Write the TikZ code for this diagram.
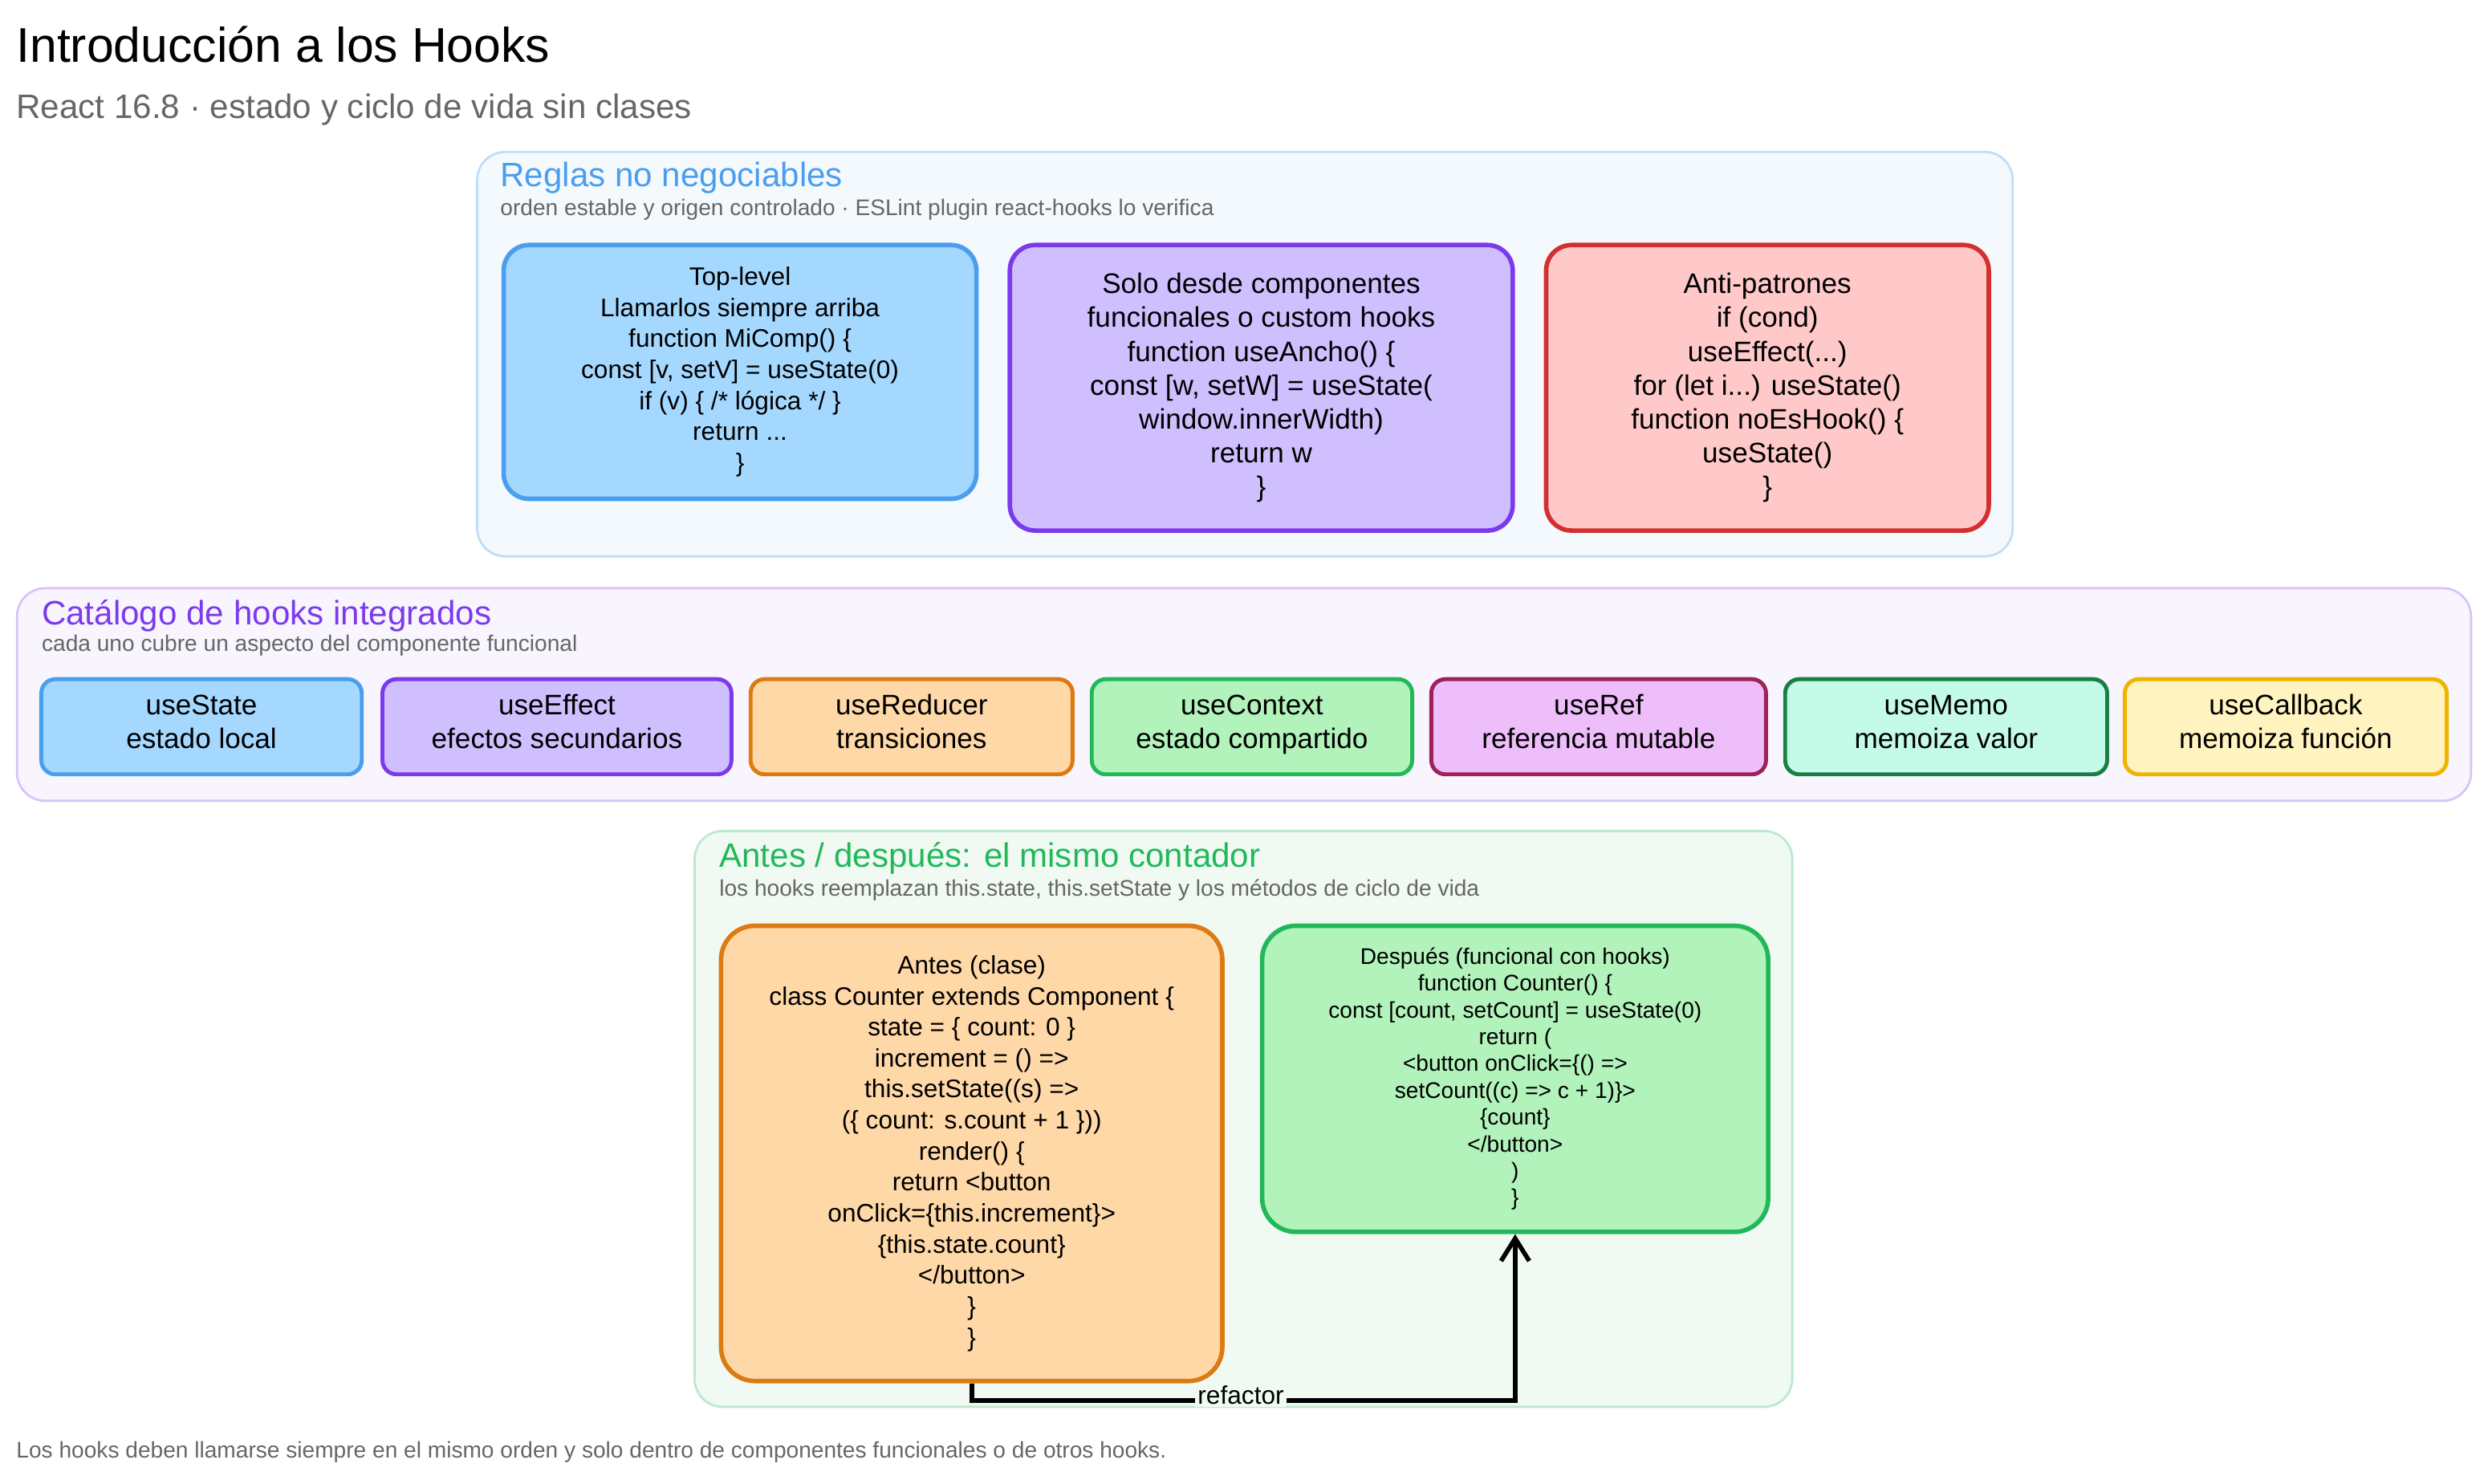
\documentclass[tikz,border=0pt]{standalone}
\usepackage{fontspec}
\setmainfont{Liberation Sans}
\usetikzlibrary{positioning,arrows.meta}
\definecolor{bluefill}{HTML}{A5D8FF}\definecolor{blueline}{HTML}{4A9EED}
\definecolor{purpfill}{HTML}{D0BFFF}\definecolor{purpline}{HTML}{7C3AED}
\definecolor{redfill}{HTML}{FFC9C9}\definecolor{redline}{HTML}{D32F2F}
\definecolor{orgfill}{HTML}{FFD8A8}\definecolor{orgline}{HTML}{DD7A12}
\definecolor{grnfill}{HTML}{B2F2BB}\definecolor{grnline}{HTML}{22B85A}
\definecolor{pinkfill}{HTML}{EEBEFA}\definecolor{pinkline}{HTML}{A0205A}
\definecolor{mintfill}{HTML}{C3FAE8}\definecolor{mintline}{HTML}{1B7F45}
\definecolor{yelfill}{HTML}{FFF3BF}\definecolor{yelline}{HTML}{F0B400}
\definecolor{greytext}{HTML}{666666}
\tikzset{
    sz/.style 2 args={minimum width=#1*0.5625pt, minimum height=#2*0.5625pt},
    group/.style={
      draw, rounded corners=10pt, line width=0.8pt, anchor=north west,
           inner sep=0pt,
           },
    card/.style={
      draw, rounded corners=9pt, line width=1.6pt, anchor=north west,
           align=center, inner sep=2pt, font=\small,
           },
    hook/.style={
      draw, rounded corners=5pt, line width=1.4pt,
           align=center, inner sep=1pt, font=\normalsize\strut,
           },
    gtitle/.style={anchor=west, inner sep=0pt, font=\large},
    gsub/.style={anchor=west, inner sep=0pt, font=\footnotesize, text=greytext},
}
\begin{document}
\begin{tikzpicture}[x=0.01977cm,y=-0.01977cm]
\useasboundingbox (0,0) rectangle (1568,935);

\node[anchor=west,inner sep=0pt,font=\LARGE](title) at (10,28){Introducción a los Hooks};
\node[anchor=west,inner sep=0pt,font=\large,text=greytext](subtitle) at (10,69){React 16.8 · estado y ciclo de vida sin clases};

% reglas
\node[group,draw=blueline!35,fill=blueline!6,sz={968}{255}](reglas) at (300,95){};
\node[gtitle,text=blueline](reglast) at (315,112){Reglas no negociables};
\node[gsub](reglass) at (315,132){orden estable y origen controlado · ESLint plugin react-hooks lo verifica};

\node[card,fill=bluefill,draw=blueline,sz={298}{160}](toplevel) at (316,153)
  {Top-level\\Llamarlos siempre arriba\\function MiComp() \{\\const [v, setV] = useState(0)\\if (v) \{ /* lógica */ \}\\return ...\\\}};
\node[card,fill=purpfill,draw=purpline,sz={317}{180},font=\normalsize](solo) at (635,153)
  {Solo desde componentes\\funcionales o custom hooks\\function useAncho() \{\\const [w, setW] = useState(\\window.innerWidth)\\return w\\\}};
\node[card,fill=redfill,draw=redline,sz={279}{180},font=\normalsize](anti) at (973,153)
  {Anti-patrones\\if (cond)\\useEffect(...)\\for (let i...) useState()\\function noEsHook() \{\\useState()\\\}};

% catalogo
\node[group,draw=purpline!30,fill=purpline!5,sz={1547}{134}](catalogo) at (10,370){};
\node[gtitle,text=purpline](catalogot) at (26,388){Catálogo de hooks integrados};
\node[gsub](catalogos) at (26,407){cada uno cubre un aspecto del componente funcional};

\node[hook,fill=bluefill,draw=blueline,sz={202}{60}](usestate) at (127,458){useState\\estado local};
\node[hook,fill=purpfill,draw=purpline,sz={220}{60}](useeffect) at (351,458){useEffect\\efectos secundarios};
\node[hook,fill=orgfill,draw=orgline,sz={203}{60}](usereducer) at (574.5,458){useReducer\\transiciones};
\node[hook,fill=grnfill,draw=grnline,sz={202}{60}](usecontext) at (789,458){useContext\\estado compartido};
\node[hook,fill=pinkfill,draw=pinkline,sz={211}{60}](useref) at (1007.5,458){useRef\\referencia mutable};
\node[hook,fill=mintfill,draw=mintline,sz={203}{60}](usememo) at (1226.5,458){useMemo\\memoiza valor};
\node[hook,fill=yelfill,draw=yelline,sz={203}{60}](usecallback) at (1440.5,458){useCallback\\memoiza función};

% antes / despues
\node[group,draw=grnline!30,fill=grnline!7,sz={692}{363}](contador) at (437,523){};
\node[gtitle,text=grnline](contadort) at (453,541){Antes / después: el mismo contador};
\node[gsub](contadors) at (453,561){los hooks reemplazan this.state, this.setState y los métodos de ciclo de vida};

\node[card,fill=orgfill,draw=orgline,sz={316}{287},rounded corners=12pt](antes) at (453,582)
  {Antes (clase)\\class Counter extends Component \{\\state = \{ count: 0 \}\\increment = () =>\\this.setState((s) =>\\(\{ count: s.count + 1 \}))\\render() \{\\return <button\\onClick=\{this.increment\}>\\\{this.state.count\}\\</button>\\\}\\\}};
\node[card,fill=grnfill,draw=grnline,sz={319}{193},rounded corners=12pt,font=\footnotesize](despues) at (794,582)
  {Después (funcional con hooks)\\function Counter() \{\\const [count, setCount] = useState(0)\\return (\\<button onClick=\{() =>\\setCount((c) => c + 1)\}>\\\{count\}\\</button>\\)\\\}};

\draw[line width=1.6pt,-{Straight Barb[length=8pt,width=10pt]}] (antes.south) -- ++(0,11) -| (despues.south);
\node[fill=grnline!7,inner sep=1pt,font=\small](refactor) at (782,879){refactor};

\node[anchor=west,inner sep=0pt,font=\footnotesize,text=greytext](footer) at (10,915){Los hooks deben llamarse siempre en el mismo orden y solo dentro de componentes funcionales o de otros hooks.};

\end{tikzpicture}
\end{document}
